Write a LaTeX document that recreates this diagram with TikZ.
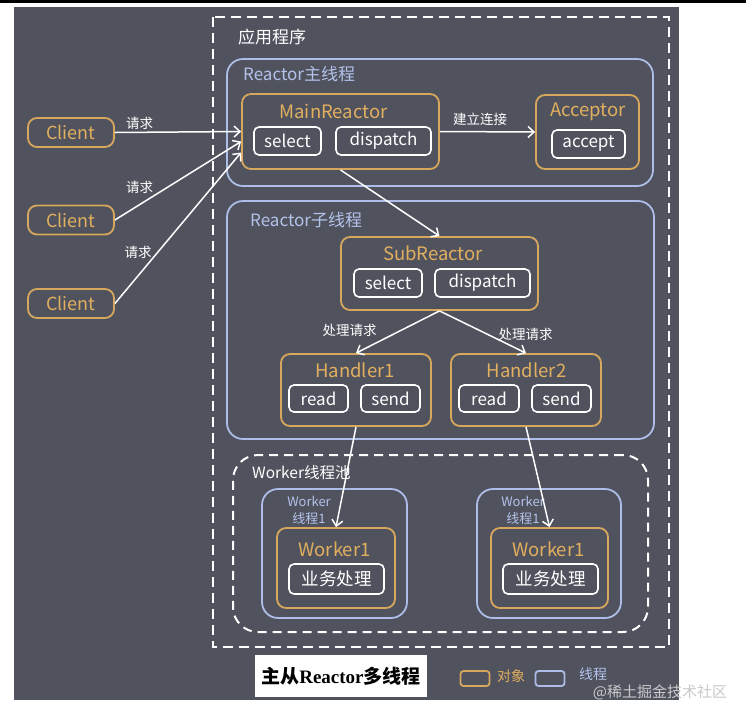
\documentclass[tikz,border=0pt]{standalone}
\usepackage{fontspec}
\setmainfont{Noto Sans CJK SC}
\newfontfamily\capserif{Liberation Serif}
\usetikzlibrary{arrows.meta}
\definecolor{panel}{HTML}{50535E}
\definecolor{objline}{HTML}{D7A75E}
\definecolor{objtext}{HTML}{E2AF5E}
\definecolor{thrline}{HTML}{AEBDE8}
\definecolor{thrtext}{HTML}{B4C2EA}
\definecolor{wmark}{HTML}{C9C9CC}

\tikzset{
  obj/.style 2 args={draw=objline, line width=1.8pt, rounded corners=9pt,
    minimum width=#1pt, minimum height=#2pt, inner sep=0pt},
  thr/.style 2 args={draw=thrline, line width=1.8pt, rounded corners=16pt,
    minimum width=#1pt, minimum height=#2pt, inner sep=0pt},
  op/.style={draw=white, line width=1.6pt, rounded corners=5pt, text=white,
    minimum height=28pt, inner sep=0pt, font=\fontsize{17}{19}\selectfont},
  ttl/.style={text=objtext, inner sep=0pt, font=\fontsize{18.5}{20}\selectfont},
  thrlbl/.style={text=thrtext, inner sep=0pt, font=\fontsize{17}{19}\selectfont},
  req/.style={text=white, inner sep=0pt, font=\fontsize{13.5}{15}\selectfont},
  arr/.style={white, line width=1.5pt, -{Straight Barb[length=6pt,width=11pt]}},
}

\begin{document}
\begin{tikzpicture}[x=1pt,y=-1pt]
% page and dark panel
\fill[white] (0,0) rectangle (746,710);
\useasboundingbox (0,0) rectangle (746,710);
\fill[panel] (14,7) rectangle (679,700);
\draw[black, line width=3pt] (0,1.5) -- (746,1.5);

% application frame
\draw[white, line width=2pt, dash pattern=on 10pt off 6pt] (213,17) rectangle (669,647);
\node[text=white, inner sep=0pt, font=\fontsize{17}{19}\selectfont] (app) at (272,37) {应用程序};

% clients
\foreach \n/\y in {1/132.5, 2/220, 3/303.5}
  \node[obj={86}{29}, text=objtext, font=\fontsize{18}{20}\selectfont] (client\n) at (71,\y) {Client};

% Reactor main thread
\node[thr={426}{127}] (mainthread) at (440,122.5) {};
\node[thrlbl, anchor=west] (mainthread-t) at (243,74) {Reactor主线程};
\node[obj={197}{75}] (mainreactor) at (340.5,131.5) {};
\node[ttl] (mainreactor-t) at (333.5,111) {MainReactor};
\node[op, minimum width=67pt] (mselect) at (287.5,141) {select};
\node[op, minimum width=95pt] (mdispatch) at (383.5,141) {dispatch};
\node[obj={103}{74}] (acceptor) at (587.5,132) {};
\node[ttl] (acceptor-t) at (588,112) {Acceptor};
\node[op, minimum width=73pt] (accept) at (588.5,144) {accept};

% Reactor sub thread
\node[thr={427}{238}] (subthread) at (440.5,320) {};
\node[thrlbl, anchor=west] (subthread-t) at (250,220) {Reactor子线程};
\node[obj={197}{73}] (subreactor) at (439.5,273.5) {};
\node[ttl] (subreactor-t) at (433,253) {SubReactor};
\node[op, minimum width=68pt] (sselect) at (388,283) {select};
\node[op, minimum width=95pt] (sdispatch) at (482.5,283) {dispatch};

\node[obj={150}{72}] (handler1) at (356,390) {};
\node[ttl] (handler1-t) at (355,370) {Handler1};
\node[op, minimum width=59pt, minimum height=27pt] (read1) at (318.5,398.5) {read};
\node[op, minimum width=59pt, minimum height=27pt] (send1) at (390.5,398.5) {send};
\node[obj={150}{72}] (handler2) at (526,390) {};
\node[ttl] (handler2-t) at (526.5,370) {Handler2};
\node[op, minimum width=60pt, minimum height=27pt] (read2) at (489,398.5) {read};
\node[op, minimum width=59pt, minimum height=27pt] (send2) at (561.5,398.5) {send};

% worker pool
\node[draw=white, line width=2pt, dash pattern=on 9pt off 6pt, rounded corners=25pt,
  minimum width=415pt, minimum height=177pt] (pool) at (440.5,543.5) {};
\node[text=white, inner sep=0pt, anchor=west, font=\fontsize{15.5}{17}\selectfont] (pool-t) at (252,473) {Worker线程池};

\node[thr={145}{129}] (wthread1) at (334.5,553.5) {};
\node[thrlbl, align=center, font=\fontsize{13}{17}\selectfont] (wthread1-t) at (309,510.5) {Worker\\线程1};
\node[obj={118}{80}] (worker1a) at (336,568) {};
\node[ttl] (worker1a-t) at (334.5,549) {Worker1};
\node[op, minimum width=95pt, minimum height=30pt, font=\fontsize{17.5}{19}\selectfont] (job1) at (336.5,579) {业务处理};

\node[thr={144}{129}] (wthread2) at (549,553.5) {};
\node[thrlbl, align=center, font=\fontsize{13}{17}\selectfont] (wthread2-t) at (523,510.5) {Worker\\线程1};
\node[obj={117}{80}] (worker1b) at (549.5,568) {};
\node[ttl] (worker1b-t) at (548.5,549) {Worker1};
\node[op, minimum width=95pt, minimum height=30pt, font=\fontsize{17.5}{19}\selectfont] (job2) at (550.5,579) {业务处理};

% requests
\draw[arr] (client1.east) -- (mainreactor.west);
\draw[arr] (client2.east) -- ([yshift=-10pt]mainreactor.west);
\draw[arr] (client3.east) -- ([yshift=-21pt]mainreactor.west);
\node[req] (req1) at (139.5,123) {请求};
\node[req] (req2) at (139.5,187) {请求};
\node[req] (req3) at (138,252) {请求};

\draw[arr] (mainreactor.east) -- (acceptor.west);
\node[req] (connect) at (480,119) {建立连接};
\draw[arr] (mainreactor.south) -- (subreactor.north);
\draw[arr] (subreactor.south) -- (handler1.north);
\draw[arr] (subreactor.south) -- (handler2.north);
\node[req] (handle1) at (349.5,330) {处理请求};
\node[req] (handle2) at (525.5,334) {处理请求};
\draw[arr] (handler1.south) -- (worker1a.north);
\draw[arr] (handler2.south) -- (worker1b.north);

% caption and key
\node[fill=white, text=black, minimum width=172pt, minimum height=42pt, inner sep=0pt,
  font=\fontsize{19}{21}\selectfont\bfseries] (caption) at (341,676)
  {主从{\capserif\bfseries Reactor}多线程};
\node[draw=objline, line width=1.8pt, rounded corners=3pt, minimum width=29pt,
  minimum height=15pt, inner sep=0pt] (keyobj) at (475,678.5) {};
\node[text=objtext, inner sep=0pt, font=\fontsize{14}{16}\selectfont] (keyobj-t) at (511,676) {对象};
\node[draw=thrline, line width=1.8pt, rounded corners=3pt, minimum width=29pt,
  minimum height=15pt, inner sep=0pt] (keythr) at (550,678.5) {};
\node[text=thrtext, inner sep=0pt, font=\fontsize{14}{16}\selectfont] (keythr-t) at (593,674) {线程};
\node[text=wmark, inner sep=0pt, font=\fontsize{15}{17}\selectfont] (wmark) at (660,692) {@稀土掘金技术社区};
\end{tikzpicture}
\end{document}
